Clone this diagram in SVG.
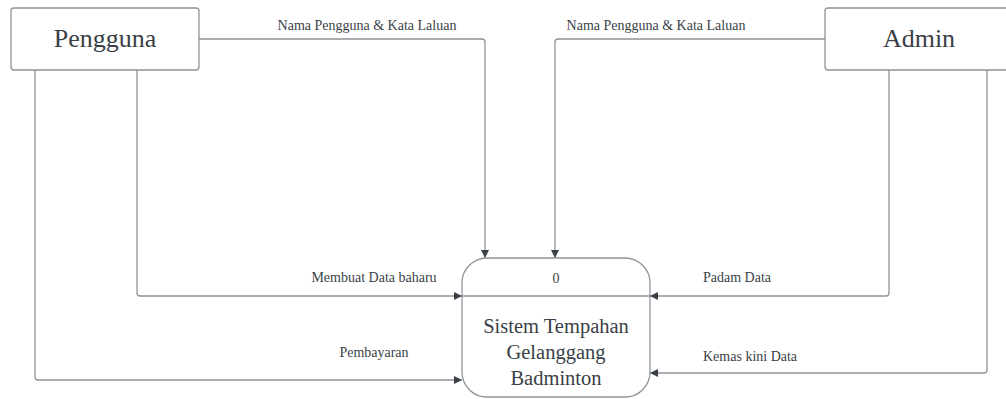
<svg xmlns="http://www.w3.org/2000/svg" width="1006" height="399" viewBox="0 0 1006 399">
<defs>
<style>
.box{fill:#ffffff;stroke:#8f949b;stroke-width:1.3}
.ln{fill:none;stroke:#8f949b;stroke-width:1.3;stroke-linejoin:round}
.t{font-family:"Liberation Serif","Times New Roman",serif;fill:#3a3f47}
.big{font-size:26px;text-anchor:middle}
.mid{font-size:20.5px;text-anchor:middle}
.lbl{font-size:14px}
</style>
<marker id="ah" viewBox="0 0 10 10" refX="10" refY="5" markerWidth="9" markerHeight="8" markerUnits="userSpaceOnUse" orient="auto">
<path d="M0,0 L10,5 L0,10 z" fill="#3a3f47"/>
</marker>
</defs>
<rect width="1006" height="399" fill="#ffffff"/>
<g id="connectors">
<path class="ln" d="M199,39 H482 Q485,39 485,42 V258" marker-end="url(#ah)"/>
<path class="ln" d="M825,39 H558 Q555,39 555,42 V258" marker-end="url(#ah)"/>
<path class="ln" d="M137,70 V293 Q137,296 140,296 H462" marker-end="url(#ah)"/>
<path class="ln" d="M35,70 V377 Q35,380 38,380 H462" marker-end="url(#ah)"/>
<path class="ln" d="M889,70 V293 Q889,296 886,296 H650" marker-end="url(#ah)"/>
<path class="ln" d="M987,70 V370 Q987,373 984,373 H650" marker-end="url(#ah)"/>
<text class="t lbl" x="367" y="30" text-anchor="middle">Nama Pengguna &amp; Kata Laluan</text>
<text class="t lbl" x="656" y="30" text-anchor="middle">Nama Pengguna &amp; Kata Laluan</text>
<text class="t lbl" x="374" y="282" text-anchor="middle">Membuat Data baharu</text>
<text class="t lbl" x="374" y="357" text-anchor="middle">Pembayaran</text>
<text class="t lbl" x="703" y="282">Padam Data</text>
<text class="t lbl" x="703" y="361">Kemas kini Data</text>
</g>
<g id="pengguna">
<rect class="box" x="11" y="8" width="188" height="62" rx="3"/>
<text class="t big" x="105" y="47">Pengguna</text>
</g>
<g id="admin">
<rect class="box" x="825" y="8" width="195" height="62" rx="3"/>
<text class="t big" x="919" y="47">Admin</text>
</g>
<g id="process">
<rect class="box" x="462" y="258" width="188" height="139" rx="25"/>
<line class="ln" x1="462" y1="296" x2="650" y2="296"/>
<text class="t lbl" x="556" y="283" text-anchor="middle">0</text>
<text class="t mid" x="556" y="333">Sistem Tempahan</text>
<text class="t mid" x="556" y="359">Gelanggang</text>
<text class="t mid" x="556" y="385">Badminton</text>
</g>
</svg>
